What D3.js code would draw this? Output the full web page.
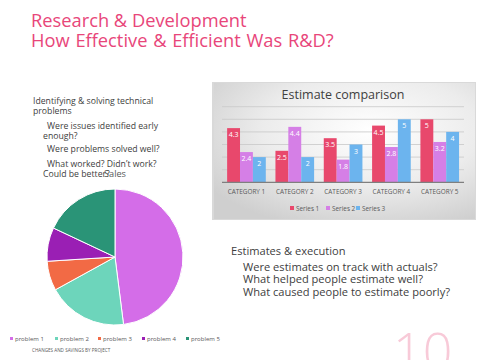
<!DOCTYPE html>
<html><head><meta charset="utf-8">
<script src="https://cdn.jsdelivr.net/npm/d3@7"></script>
<style>body{margin:0;background:#fff}svg{display:block}text{font-family:"Open Sans",sans-serif}</style>
</head><body>
<svg id="c" width="480" height="360"></svg>
<script>
const categories = ["CATEGORY 1","CATEGORY 2","CATEGORY 3","CATEGORY 4","CATEGORY 5"];
const seriesNames = ["Series 1","Series 2","Series 3"];
const series1 = [4.3,2.5,3.5,4.5,5];
const series2 = [2.4,4.4,1.8,2.8,3.2];
const series3 = [2,2,3,5,4];
const seriesColors = ["#e8486c","#d57fe6","#6cb4ee"];
const yTicks = [0,1,2,3,4,5,6];
const pieLabels = ["problem 1","problem 2","problem 3","problem 4","problem 5"];
const pieValues = [48,19,7,8,18];
const pieColors = ["#d46de8","#6dd5bb","#f26a45","#9a1fb4","#2a9477"];

const svg = d3.select("#c");
const pink = "#e8467a";
// Title
const title = svg.append("g").attr("fill",pink).attr("font-size",18.3);
title.append("text").attr("x",31).attr("y",27).text("Research & Development");
title.append("text").attr("x",31).attr("y",46.5).attr("word-spacing",1).text("How Effective & Efficient  Was R&D?");

// Left text
const lt = [
  [33,103.5,"Identifying & solving technical"],
  [33,113.5,"problems"],
  [47,128.5,"Were issues identified early"],
  [43,139,"enough?"],
  [47,151.5,"Were problems solved well?"],
  [47,166.5,"What worked? Didn\u2019t work?"],
  [43,176.5,"Could be better?"]
];
svg.append("g").attr("fill","#404040").attr("font-size",8.7)
  .selectAll("text").data(lt).join("text")
  .attr("x",d=>d[0]).attr("y",d=>d[1]).text(d=>d[2]);

// Right text
const rt = [
  [231,255,"Estimates & execution"],
  [243,271,"Were estimates on track with actuals?"],
  [243,283,"What helped people estimate well?"],
  [243,296,"What caused people to estimate poorly?"]
];
svg.append("g").attr("fill","#404040").attr("font-size",11.1)
  .selectAll("text").data(rt).join("text")
  .attr("x",d=>d[0]).attr("y",d=>d[1]).text(d=>d[2]);

// Bar chart box
const defs = svg.append("defs");
const rg = defs.append("radialGradient").attr("id","bg").attr("cx","0.6").attr("cy","0.35").attr("r","0.75");
rg.append("stop").attr("offset","0").attr("stop-color","#ffffff");
rg.append("stop").attr("offset","0.55").attr("stop-color","#ececec");
rg.append("stop").attr("offset","1").attr("stop-color","#cfcfcf");
svg.append("rect").attr("x",212).attr("y",82).attr("width",264).attr("height",138).attr("fill","#d9d9d9");
svg.append("rect").attr("x",214).attr("y",83).attr("width",261).attr("height",136).attr("fill","url(#bg)");

svg.append("text").attr("x",343).attr("y",99).attr("text-anchor","middle")
  .attr("font-size",12.5).attr("fill","#404040").text("Estimate comparison");

const x0 = d3.scaleBand().domain(categories).range([222.3,463.9]).paddingInner(0.2).paddingOuter(0.1);
const x1 = d3.scaleBand().domain(seriesNames).range([0,x0.bandwidth()]);
const y = d3.scaleLinear().domain([0,6]).range([182.3,106.7]);

svg.append("g").selectAll("line").data(yTicks.slice(1)).join("line")
  .attr("x1",222).attr("x2",464).attr("y1",d=>y(d)).attr("y2",d=>y(d))
  .attr("stroke","#c8c8c8").attr("stroke-width",0.8);

const allSeries = [series1,series2,series3];
const bars = [];
categories.forEach((c,i)=>allSeries.forEach((s,j)=>bars.push({c,s:seriesNames[j],v:s[i],j})));
svg.append("g").selectAll("rect").data(bars).join("rect")
  .attr("x",d=>x0(d.c)+x1(d.s)).attr("width",x1.bandwidth())
  .attr("y",d=>y(d.v)).attr("height",d=>y(0)-y(d.v)).attr("fill",d=>seriesColors[d.j]);
svg.append("g").attr("font-size",7).attr("fill","#fff").attr("text-anchor","middle")
  .selectAll("text").data(bars).join("text")
  .attr("x",d=>x0(d.c)+x1(d.s)+x1.bandwidth()/2).attr("y",d=>y(d.v)+9)
  .text(d=>d.v);

const xAxis = svg.append("g").attr("transform",`translate(0,${y(0)})`)
  .call(d3.axisBottom(x0).tickSize(0).tickPadding(7));
xAxis.select(".domain").attr("stroke","#7f7f7f").attr("stroke-width",1.2).attr("d","M222,0H464");
xAxis.selectAll("text").attr("font-size",6.4).attr("fill","#595959").attr("font-family","Open Sans");

const lg = svg.append("g").attr("font-size",6.4).attr("fill","#595959");
const lgX = [290,326,356];
seriesNames.forEach((n,i)=>{
  lg.append("rect").attr("x",lgX[i]).attr("y",206).attr("width",4).attr("height",4).attr("fill",seriesColors[i]);
  lg.append("text").attr("x",lgX[i]+6).attr("y",210.5).text(n);
});

// Pie
const pie = d3.pie().sort(null).value(d=>d)(pieValues);
const arc = d3.arc().innerRadius(0).outerRadius(68);
const pg = svg.append("g").attr("transform","translate(115,257)");
pg.selectAll("path").data(pie).join("path").attr("d",arc)
  .attr("fill",(d,i)=>pieColors[i]).attr("stroke","#fff").attr("stroke-width",1);
svg.append("text").attr("x",115).attr("y",176.5).attr("text-anchor","middle")
  .attr("font-size",9.2).attr("fill","#595959").text("Sales");

const pl = svg.append("g").attr("font-size",6).attr("fill","#595959");
const plX = [10,55,98,142,186];
pieLabels.forEach((n,i)=>{
  pl.append("rect").attr("x",plX[i]).attr("y",337).attr("width",3).attr("height",3).attr("fill",pieColors[i]);
  pl.append("text").attr("x",plX[i]+5).attr("y",340.5).text(n);
});
svg.append("text").attr("x",32).attr("y",352).attr("font-size",4.6).attr("fill","#595959")
  .text("CHANGES AND SAVINGS BY PROJECT");

svg.append("text").attr("x",393).attr("y",370).attr("font-size",52).attr("font-weight",300)
  .attr("fill","#f8cad8").text("10");
</script>
</body></html>
